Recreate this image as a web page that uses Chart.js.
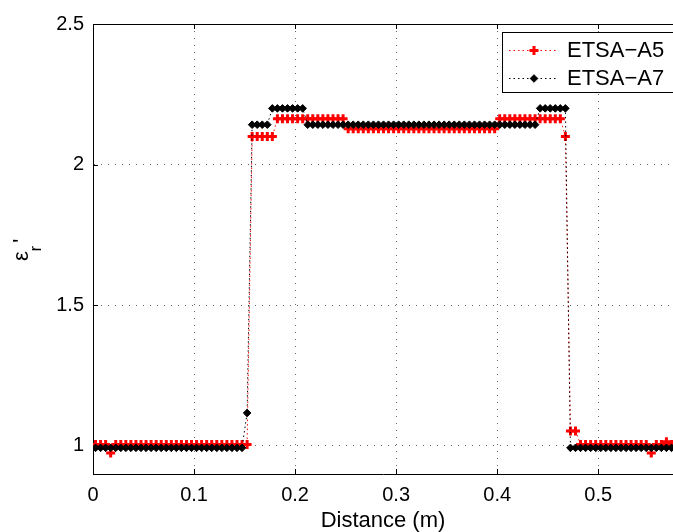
<!DOCTYPE html>
<html>
<head>
<meta charset="utf-8">
<script src="https://cdn.jsdelivr.net/npm/chart.js@4.4.0/dist/chart.umd.min.js"></script>
<style>
  body { margin: 0; background: #fff; }
  #wrap { width: 673px; height: 532px; }
</style>
</head>
<body>
<div id="wrap"><canvas id="epsChart"></canvas></div>
<script>
// Sample positions along the scan (m)
const distance = [
  0.0025, 0.0075, 0.0125, 0.0175, 0.0225, 0.0275, 0.0325, 0.0375, 0.0425, 0.0475,
  0.0525, 0.0575, 0.0625, 0.0675, 0.0725, 0.0775, 0.0825, 0.0875, 0.0925, 0.0975,
  0.1025, 0.1075, 0.1125, 0.1175, 0.1225, 0.1275, 0.1325, 0.1375, 0.1425, 0.1475,
  0.1525, 0.1575, 0.1625, 0.1675, 0.1725, 0.1775, 0.1825, 0.1875, 0.1925, 0.1975,
  0.2025, 0.2075, 0.2125, 0.2175, 0.2225, 0.2275, 0.2325, 0.2375, 0.2425, 0.2475,
  0.2525, 0.2575, 0.2625, 0.2675, 0.2725, 0.2775, 0.2825, 0.2875, 0.2925, 0.2975,
  0.3025, 0.3075, 0.3125, 0.3175, 0.3225, 0.3275, 0.3325, 0.3375, 0.3425, 0.3475,
  0.3525, 0.3575, 0.3625, 0.3675, 0.3725, 0.3775, 0.3825, 0.3875, 0.3925, 0.3975,
  0.4025, 0.4075, 0.4125, 0.4175, 0.4225, 0.4275, 0.4325, 0.4375, 0.4425, 0.4475,
  0.4525, 0.4575, 0.4625, 0.4675, 0.4725, 0.4775, 0.4825, 0.4875, 0.4925, 0.4975,
  0.5025, 0.5075, 0.5125, 0.5175, 0.5225, 0.5275, 0.5325, 0.5375, 0.5425, 0.5475,
  0.5525, 0.5575, 0.5625, 0.5675, 0.5725
];

// Relative permittivity, sample A5
const etsaA5 = [
  1.005, 1.005, 1.005, 0.975, 1.005, 1.005, 1.005, 1.005, 1.005, 1.005,
  1.005, 1.005, 1.005, 1.005, 1.005, 1.005, 1.005, 1.005, 1.005, 1.005,
  1.005, 1.005, 1.005, 1.005, 1.005, 1.005, 1.005, 1.005, 1.005, 1.005,
  1.005, 2.1, 2.1, 2.1, 2.1, 2.1, 2.163, 2.163, 2.163, 2.163,
  2.163, 2.163, 2.163, 2.163, 2.163, 2.163, 2.163, 2.163, 2.163, 2.163,
  2.128, 2.128, 2.128, 2.128, 2.128, 2.128, 2.128, 2.128, 2.128, 2.128,
  2.128, 2.128, 2.128, 2.128, 2.128, 2.128, 2.128, 2.128, 2.128, 2.128,
  2.128, 2.128, 2.128, 2.128, 2.128, 2.128, 2.128, 2.128, 2.128, 2.128,
  2.163, 2.163, 2.163, 2.163, 2.163, 2.163, 2.163, 2.163, 2.163, 2.163,
  2.163, 2.163, 2.163, 2.1, 1.053, 1.053, 1.005, 1.005, 1.005, 1.005,
  1.005, 1.005, 1.005, 1.005, 1.005, 1.005, 1.005, 1.005, 1.005, 1.005,
  0.975, 1.005, 1.005, 1.015, 1.005
];

// Relative permittivity, sample A7
const etsaA7 = [
  0.993, 0.993, 0.993, 0.993, 0.993, 0.993, 0.993, 0.993, 0.993, 0.993,
  0.993, 0.993, 0.993, 0.993, 0.993, 0.993, 0.993, 0.993, 0.993, 0.993,
  0.993, 0.993, 0.993, 0.993, 0.993, 0.993, 0.993, 0.993, 0.993, 0.993,
  1.117, 2.142, 2.142, 2.142, 2.142, 2.2, 2.2, 2.2, 2.2, 2.2,
  2.2, 2.2, 2.142, 2.142, 2.142, 2.142, 2.142, 2.142, 2.142, 2.142,
  2.142, 2.142, 2.142, 2.142, 2.142, 2.142, 2.142, 2.142, 2.142, 2.142,
  2.142, 2.142, 2.142, 2.142, 2.142, 2.142, 2.142, 2.142, 2.142, 2.142,
  2.142, 2.142, 2.142, 2.142, 2.142, 2.142, 2.142, 2.142, 2.142, 2.142,
  2.142, 2.142, 2.142, 2.142, 2.142, 2.142, 2.142, 2.142, 2.2, 2.2,
  2.2, 2.2, 2.2, 2.2, 0.993, 0.993, 0.993, 0.993, 0.993, 0.993,
  0.993, 0.993, 0.993, 0.993, 0.993, 0.993, 0.993, 0.993, 0.993, 0.993,
  0.993, 0.993, 0.993, 0.993, 0.993
];

const seriesNames = ["ETSA\u2212A5", "ETSA\u2212A7"];
const xTicks = [0, 0.1, 0.2, 0.3, 0.4, 0.5];
const yTicks = [1, 1.5, 2, 2.5];

const FONT = '"Liberation Sans", Arial, sans-serif';

function toPoints(ys) {
  return distance.map((x, i) => ({ x: x, y: ys[i] }));
}

// y title, inward ticks, top border and the boxed legend
const decorations = {
  id: "decorations",
  afterDraw(chart) {
    const ctx = chart.ctx;
    const a = chart.chartArea;
    const xs = chart.scales.x;
    const ys = chart.scales.y;

    ctx.save();
    ctx.strokeStyle = "#000";
    ctx.lineWidth = 1;
    ctx.beginPath();
    ctx.moveTo(a.left, a.top + 0.5);
    ctx.lineTo(a.right, a.top + 0.5);
    xTicks.forEach(v => {
      const px = Math.round(xs.getPixelForValue(v)) + 0.5;
      ctx.moveTo(px, a.bottom);
      ctx.lineTo(px, a.bottom - 5);
      ctx.moveTo(px, a.top);
      ctx.lineTo(px, a.top + 5);
    });
    yTicks.forEach(v => {
      const py = Math.round(ys.getPixelForValue(v)) + 0.5;
      ctx.moveTo(a.left, py);
      ctx.lineTo(a.left + 5, py);
    });
    ctx.stroke();
    ctx.restore();

    // epsilon_r' label
    ctx.save();
    ctx.translate(28, 261);
    ctx.rotate(-Math.PI / 2);
    ctx.fillStyle = "#000";
    ctx.textBaseline = "alphabetic";
    ctx.font = "22px " + FONT;
    ctx.fillText("\u03b5", 0, 0);
    const ew = ctx.measureText("\u03b5").width;
    ctx.font = "16px " + FONT;
    ctx.fillText("r", ew, 13);
    const rw = ctx.measureText("r").width;
    ctx.font = "22px " + FONT;
    ctx.fillText("'", ew + rw + 3, 0);
    ctx.restore();

    // legend
    const lx = 502, ly = 32, lw = 190, lh = 60;
    ctx.save();
    ctx.fillStyle = "#fff";
    ctx.fillRect(lx, ly, lw, lh);
    ctx.strokeStyle = "#000";
    ctx.lineWidth = 1;
    ctx.strokeRect(lx + 0.5, ly + 0.5, lw, lh);
    chart.data.datasets.forEach((ds, i) => {
      const y = ly + 18 + i * 28;
      ctx.strokeStyle = ds.borderColor;
      ctx.lineWidth = 1;
      ctx.setLineDash(ds.borderDash);
      ctx.beginPath();
      ctx.moveTo(lx + 7, y + 0.5);
      ctx.lineTo(lx + 56, y + 0.5);
      ctx.stroke();
      ctx.setLineDash([]);
      ctx.fillStyle = ds.pointBackgroundColor;
      ctx.strokeStyle = ds.pointBorderColor;
      ctx.lineWidth = ds.pointBorderWidth;
      Chart.helpers.drawPoint(ctx, {
        pointStyle: ds.pointStyle,
        radius: ds.pointRadius,
        rotation: 0,
        borderWidth: ds.pointBorderWidth
      }, lx + 32, y + 0.5);
      ctx.fillStyle = "#000";
      ctx.font = "22px " + FONT;
      ctx.textAlign = "left";
      ctx.textBaseline = "middle";
      ctx.fillText(ds.label, lx + 65, y + 1);
    });
    ctx.restore();
  }
};

const ctx = document.getElementById("epsChart").getContext("2d");

const chart = new Chart(ctx, {
  type: "line",
  data: {
    datasets: [{
      label: seriesNames[0],
      data: toPoints(etsaA5),
      borderColor: "#ff0000",
      borderWidth: 1,
      borderDash: [1.5, 3],
      pointStyle: "cross",
      pointRadius: 4.5,
      pointBorderWidth: 3,
      pointBackgroundColor: "#ff0000",
      pointBorderColor: "#ff0000",
      order: 1
    }, {
      label: seriesNames[1],
      data: toPoints(etsaA7),
      borderColor: "#000000",
      borderWidth: 1,
      borderDash: [1.5, 3],
      pointStyle: "rectRot",
      pointRadius: 3.8,
      pointBorderWidth: 1,
      pointBackgroundColor: "#000000",
      pointBorderColor: "#000000",
      order: 0
    }]
  },
  options: {
    responsive: true,
    maintainAspectRatio: false,
    animation: false,
    layout: { autoPadding: false, padding: { top: 24, right: 0, bottom: 0, left: 0 } },
    plugins: {
      legend: { display: false },
      tooltip: { enabled: false }
    },
    scales: {
      x: {
        type: "linear",
        min: 0,
        max: 0.574,
        afterBuildTicks: s => { s.ticks = xTicks.map(v => ({ value: v })); },
        afterFit: s => { s.height = 58; s.paddingLeft = 0; s.paddingRight = 0; },
        ticks: {
          color: "#000",
          font: { family: FONT, size: 20 },
          padding: 9,
          maxRotation: 0,
          callback: v => String(v)
        },
        grid: { color: "#666", lineWidth: 1, drawTicks: false },
        border: { color: "#000", width: 1, dash: [1, 6] },
        title: {
          display: true,
          text: "Distance (m)",
          color: "#000",
          font: { family: FONT, size: 22, lineHeight: 1 },
          padding: { top: 0, bottom: 0 }
        }
      },
      y: {
        type: "linear",
        min: 0.9,
        max: 2.5,
        afterBuildTicks: s => { s.ticks = yTicks.map(v => ({ value: v })); },
        afterFit: s => { s.width = 93; s.paddingTop = 0; s.paddingBottom = 0; },
        ticks: {
          color: "#000",
          font: { family: FONT, size: 20 },
          padding: 9,
          callback: v => String(v)
        },
        grid: { color: "#666", lineWidth: 1, drawTicks: false },
        border: { color: "#000", width: 1, dash: [1, 6] }
      }
    }
  },
  plugins: [decorations]
});
</script>
</body>
</html>
